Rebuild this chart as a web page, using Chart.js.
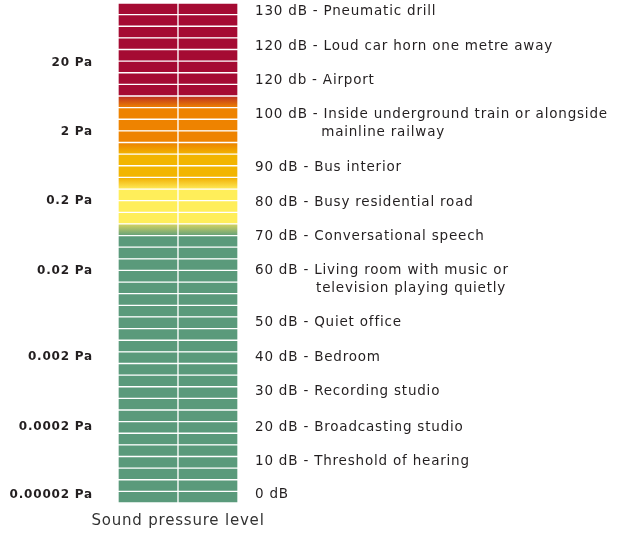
<!DOCTYPE html>
<html><head><meta charset="utf-8">
<script src="https://cdn.jsdelivr.net/npm/chart.js@4.4.0/dist/chart.umd.min.js"></script>
<style>html,body{margin:0;padding:0;background:#fff;}canvas{display:block;}</style>
</head><body>
<canvas id="c" width="623" height="536"></canvas>
<script>
// ---- data ----
const columns = ['Left', 'Right'];
// colour bands, listed from top of the bar to bottom
const bandNames = ['red', 'redToOrange', 'orange', 'orangeToAmber', 'amber', 'amberToYellow', 'yellow', 'yellowToGreen', 'green'];
const bandSegments = [8, 1, 3, 1, 2, 1, 3, 1, 23];
const segmentValue = [1, 1]; // one level step in each column

// left axis (sound pressure) – tick positions on the level scale
const paTickLevels = [37.85, 31.95, 25.95, 19.95, 12.55, 6.55, 0.7];
const paTickLabels = ['20 Pa', '2 Pa', '0.2 Pa', '0.02 Pa', '0.002 Pa', '0.0002 Pa', '0.00002 Pa'];

// right axis (decibels + example sources)
const dbTickLevels = [42.3, 39.25, 36.35, 32.65, 28.85, 25.85, 22.9, 19.25, 15.5, 12.55, 9.6, 6.52, 3.6, 0.7];
const dbValues = ['130 dB', '120 dB', '120 db', '100 dB', '90 dB', '80 dB', '70 dB', '60 dB', '50 dB', '40 dB', '30 dB', '20 dB', '10 dB', '0 dB'];
const dbSources = [
  ['Pneumatic drill'],
  ['Loud car horn one metre away'],
  ['Airport'],
  ['Inside underground train or alongside', 'mainline railway'],
  ['Bus interior'],
  ['Busy residential road'],
  ['Conversational speech'],
  ['Living room with music or', 'television playing quietly'],
  ['Quiet office'],
  ['Bedroom'],
  ['Recording studio'],
  ['Broadcasting studio'],
  ['Threshold of hearing'],
  []
];
const axisTitle = ['Sound pressure level'];

// ---- styles ----
const bandStyle = {
  red: ['#A50B33', '#A50B33'],
  redToOrange: ['#BC2E22', '#EE8300'],
  orange: ['#EE8300', '#EE8300'],
  orangeToAmber: ['#EC8000', '#F2B500'],
  amber: ['#F2B500', '#F2B500'],
  amberToYellow: ['#F1AE00', '#FFEB5A'],
  yellow: ['#FFEE5A', '#FFEE5A'],
  yellowToGreen: ['#D6D462', '#64A07A'],
  green: ['#5A9A7B', '#5A9A7B']
};
const textColor = '#231F20';
const labelFont = 'DejaVu Sans';
const spacing = '0.8px';

// ---- build ----
const segments = [];
bandNames.forEach((b, k) => { for (let j = 0; j < bandSegments[k]; j++) segments.push(b); });
segments.reverse(); // bottom → top for stacking
const totalLevels = segments.length;

function fill(ctx, band, i) {
  const [c1, c2] = bandStyle[band];
  if (c1 === c2) return c1;
  const chart = ctx.chart;
  const ys = chart.scales && chart.scales.y;
  if (!chart.chartArea || !ys) return c1;
  const top = ys.getPixelForValue(i + 1), bot = ys.getPixelForValue(i);
  if (!isFinite(top) || !isFinite(bot)) return c1;
  const g = chart.ctx.createLinearGradient(0, top, 0, bot);
  g.addColorStop(0, c1);
  g.addColorStop(1, c2);
  return g;
}

const datasets = segments.map((band, i) => ({
  label: band + ' ' + i,
  data: segmentValue,
  backgroundColor: (ctx) => fill(ctx, band, i),
  borderColor: '#FFFFFF',
  borderWidth: 1,
  borderSkipped: false,
  categoryPercentage: 1,
  barPercentage: 1,
  stack: 'level'
}));

const measure = document.createElement('canvas').getContext('2d');
measure.font = '13.5px "' + labelFont + '"';
if ('letterSpacing' in measure) measure.letterSpacing = spacing;
function descLabel(i) {
  const lines = dbSources[i];
  if (!lines.length) return dbValues[i];
  const prefix = dbValues[i] + ' - ';
  const first = prefix + lines[0];
  if (lines.length === 1) return first;
  const pw = measure.measureText(prefix).width;
  const sw = measure.measureText('\u00A0').width;
  const pad = '\u00A0'.repeat(Math.round(pw / sw));
  return [first].concat(lines.slice(1).map(l => pad + l));
}

const wideText = {
  id: 'wideText',
  beforeDraw(chart) { if ('letterSpacing' in chart.ctx) chart.ctx.letterSpacing = spacing; },
  afterDraw(chart) { if ('letterSpacing' in chart.ctx) chart.ctx.letterSpacing = '0px'; }
};

const noPad = s => { s.paddingTop = 0; s.paddingBottom = 0; };

new Chart(document.getElementById('c'), {
  type: 'bar',
  data: { labels: columns, datasets },
  plugins: [wideText],
  options: {
    responsive: false,
    animation: false,
    devicePixelRatio: 1,
    layout: { padding: { top: 3, left: 0, right: 0, bottom: 0 } },
    plugins: { legend: { display: false }, tooltip: { enabled: false } },
    scales: {
      x: {
        stacked: true, display: false
      },
      x2: {
        type: 'category', position: 'bottom', labels: axisTitle, offset: true,
        grid: { display: false, drawTicks: false },
        border: { display: false },
        afterFit: s => { s.height = 33; s.paddingLeft = 0; s.paddingRight = 0; },
        ticks: {
          autoSkip: false, maxRotation: 0, minRotation: 0, padding: 9, color: '#333333',
          font: { family: labelFont, size: 15, lineHeight: 1.2 }
        }
      },
      y: {
        stacked: true, position: 'left', min: 0, max: totalLevels,
        grid: { display: false, drawTicks: false },
        border: { display: false },
        afterBuildTicks: s => { s.ticks = paTickLevels.map(v => ({ value: v })); },
        afterFit: s => { s.width = 118; noPad(s); },
        ticks: {
          autoSkip: false, padding: 25, color: textColor,
          font: { family: labelFont, size: 12, weight: 'bold' },
          callback: (v, i) => paTickLabels[i]
        }
      },
      y2: {
        position: 'right', min: 0, max: totalLevels,
        grid: { display: false, drawTicks: false },
        border: { display: false },
        afterBuildTicks: s => { s.ticks = dbTickLevels.map(v => ({ value: v })); },
        afterFit: s => { s.width = 385; noPad(s); },
        ticks: {
          autoSkip: false, padding: 17, color: textColor,
          font: { family: labelFont, size: 13.5, lineHeight: 1.33 },
          callback: (v, i) => descLabel(i)
        }
      }
    }
  }
});
</script>
</body></html>
